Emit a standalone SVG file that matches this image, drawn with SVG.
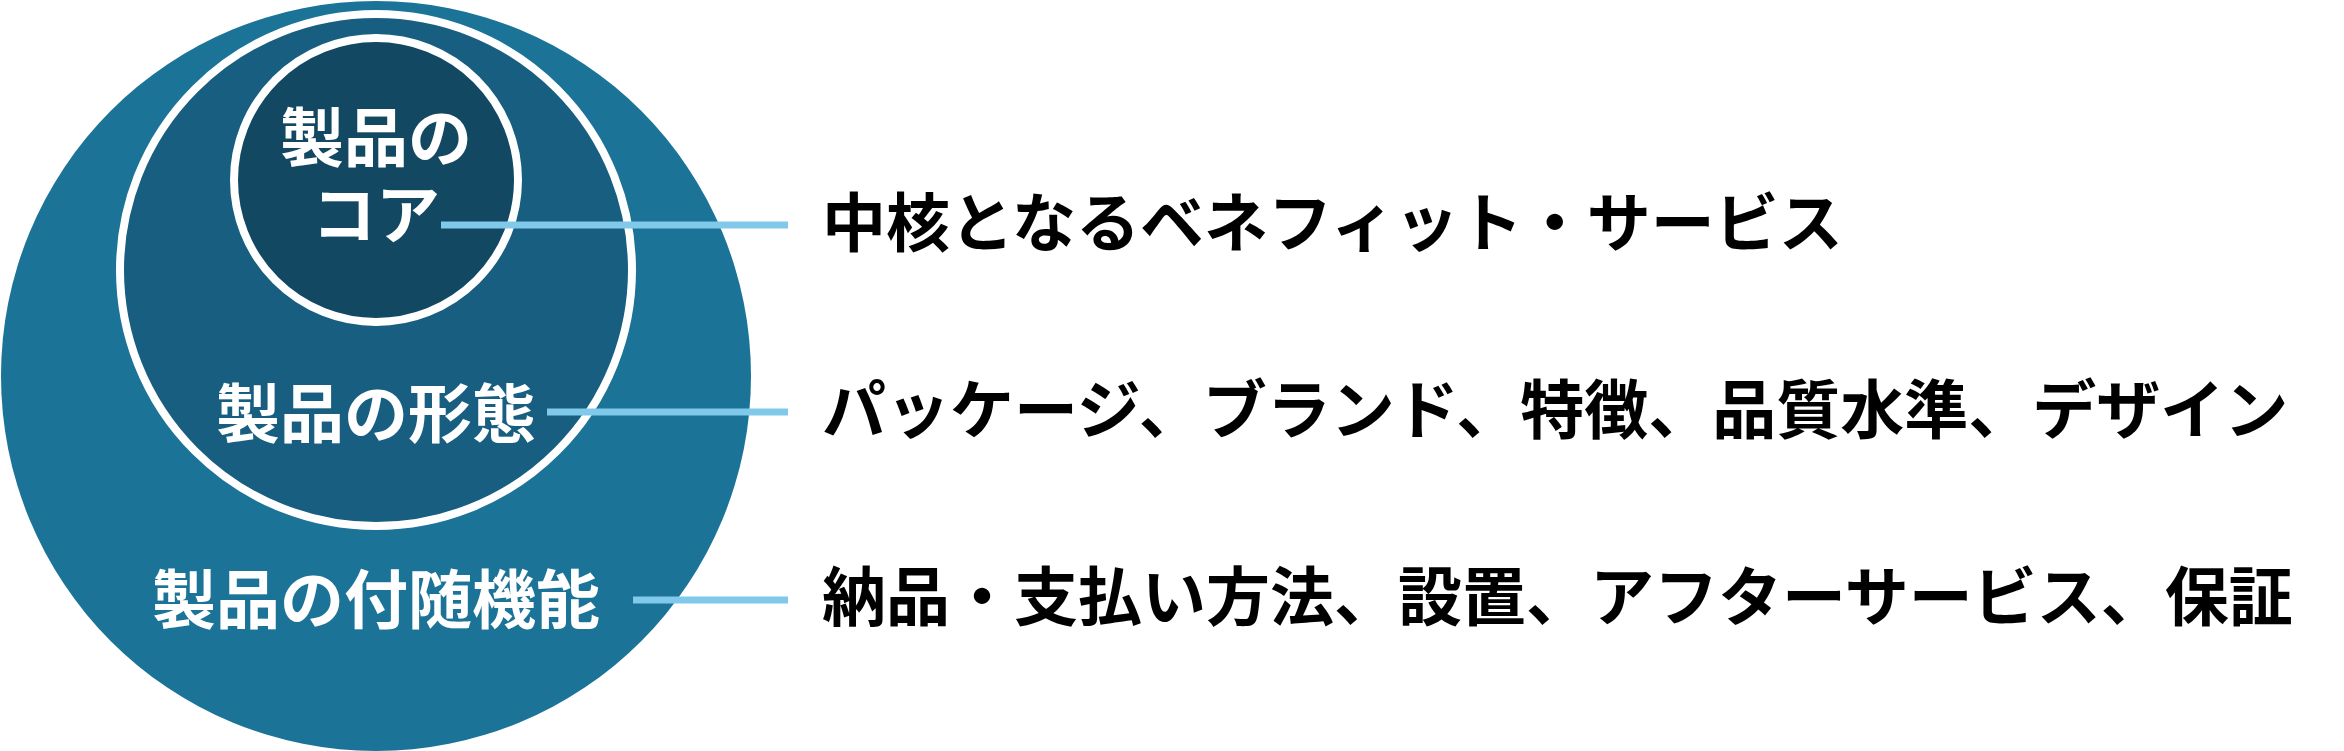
<svg xmlns="http://www.w3.org/2000/svg" width="2344" height="751" viewBox="0 0 2344 751">
<style>
.ring{stroke:#ffffff;stroke-width:8}
.lbl{font-family:"Noto Sans CJK JP","Noto Sans CJK SC",sans-serif;font-weight:700;font-size:64px;fill:#ffffff;text-anchor:middle}
.desc{font-family:"Noto Sans CJK JP","Noto Sans CJK SC",sans-serif;font-weight:700;font-size:64px;fill:#000000}
.conn{stroke:#80c9ea;stroke-width:7;fill:none}
</style>
<rect width="2344" height="751" fill="#ffffff"/>
<g id="outer">
<circle cx="376" cy="376" r="375" fill="#1b7398"/>
<text class="lbl" x="376" y="623">製品の付随機能</text>
</g>
<g id="middle">
<circle class="ring" cx="376" cy="270" r="256" fill="#175e80"/>
<text class="lbl" x="376" y="437">製品の形態</text>
</g>
<g id="core">
<circle class="ring" cx="376" cy="180" r="142" fill="#124862"/>
<text class="lbl" x="376" y="161">製品の<tspan x="376" dy="77">コア</tspan></text>
</g>
<g id="connectors">
<line class="conn" x1="441" y1="225" x2="788" y2="225"/>
<line class="conn" x1="547" y1="412" x2="788" y2="412"/>
<line class="conn" x1="633" y1="600" x2="788" y2="600"/>
</g>
<g id="desc-core"><text class="desc" x="822" y="246">中核となるベネフィット・サービス</text></g>
<g id="desc-form"><text class="desc" x="822" y="433">パッケージ、ブランド、特徴、品質水準、デザイン</text></g>
<g id="desc-aug"><text class="desc" x="822" y="620">納品・支払い方法、設置、アフターサービス、保証</text></g>
</svg>
